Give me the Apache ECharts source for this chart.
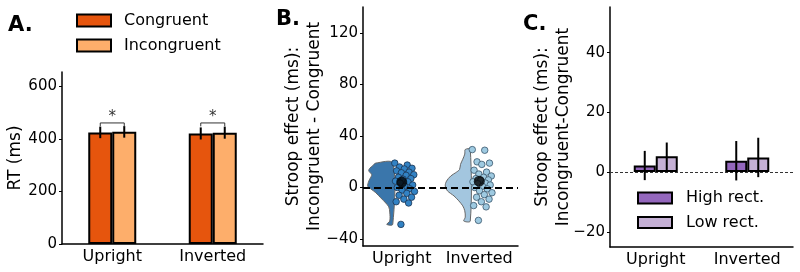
<!DOCTYPE html>
<html>
<head>
<meta charset="utf-8">
<script src="https://cdn.jsdelivr.net/npm/echarts@6/dist/echarts.min.js"></script>
<style>
  html, body { margin: 0; padding: 0; background: #fff; }
  #chart { width: 800px; height: 272px; }
</style>
</head>
<body>
<div id="chart"></div>
<script>
const conditions = ['Upright', 'Inverted']

// A. mean RT per condition (ms)
const rtTicks = [0, 200, 400, 600]
const rtCongruent = [425, 421]
const rtIncongruent = [427, 424]
const rtCongruentErr = [22, 23]
const rtIncongruentErr = [22, 23]
const rtBracketTop = [461, 461]
const rtBracketLeg = [448, 448]
const rtStar = [482, 482]

// B. stroop effect per participant (ms)
const stroopTicks = [-40, 0, 40, 80, 120]
const uprightPoints = [19, 17.5, 16, 15, 14.5, 13, 12, 11.5, 10, 9.5, 8, 7, 6.5, 5, 4.5, 3.5, 2, 1, 0, -1, -2, -3, -4.5, -6, -7.5, -9, -11, -12, -28.6]
const invertedPoints = [29.5, 29, 20, 19, 18, 13.5, 12, 10.5, 9, 8, 7, 6, 5.5, 4.5, 3.5, 3, 2, 1, 0, -1, -2.5, -4, -5.5, -7.5, -9, -11, -14, -15, -25.5]
const stroopMeans = [4.3, 5.0]
// half-violin outlines: value and relative density
const uprightViolinY = [19, 17, 15, 13, 10, 8, 5, 1, -1, -4, -8, -12, -15, -19, -26, -28.6]
const uprightViolinD = [0.68, 0.8, 0.92, 0.96, 0.84, 0.88, 0.96, 1.0, 0.88, 0.68, 0.48, 0.28, 0.16, 0.12, 0.12, 0.24]
const invertedViolinY = [29.6, 26, 22, 18, 14, 11.6, 9, 5, 1.3, -2.6, -6.5, -10.3, -14.2, -18, -23, -26]
const invertedViolinD = [0.2, 0.22, 0.3, 0.39, 0.43, 0.58, 0.78, 0.95, 1.0, 0.91, 0.65, 0.46, 0.3, 0.22, 0.2, 0.26]

// C. stroop effect by rectification (ms)
const recTicks = [-20, 0, 20, 40]
const highRect = [2.2, 3.8]
const lowRect = [5.3, 4.9]
const highRectErr = [4.9, 6.6]
const lowRectErr = [4.6, 6.6]

const FONT = 'DejaVu Sans'
const minus = v => String(v).replace('-', '\u2212')

var myChart = echarts.init(document.getElementById('chart'))

function yAxisBase (grid, min, max, ticks, name, gap) {
  return {
    type: 'value', gridIndex: grid, min: min, max: max,
    name: name, nameLocation: 'middle', nameRotate: 90, nameGap: gap, nameMoveOverlap: false,
    nameTextStyle: { fontFamily: FONT, fontSize: 17, color: '#000', lineHeight: 21 },
    axisLine: { show: true, onZero: false, lineStyle: { color: '#000', width: 1.5 } },
    axisTick: { show: true, length: 3, customValues: ticks, lineStyle: { color: '#000' } },
    axisLabel: { customValues: ticks, fontFamily: FONT, fontSize: 15, color: '#000', margin: 5, formatter: minus },
    splitLine: { show: false }
  }
}

function xAxisBase (grid) {
  return {
    type: 'category', gridIndex: grid, data: conditions,
    axisLine: { onZero: false, lineStyle: { color: '#000', width: 1.5 } },
    axisTick: { alignWithLabel: true, length: 3, lineStyle: { color: '#000' } },
    axisLabel: { interval: 0, fontFamily: FONT, fontSize: 16, color: '#000', margin: 5 }
  }
}

function errorBars (offset) {
  return function (params, api) {
    const i = api.value(0), m = api.value(1), e = api.value(2)
    const top = api.coord([i, m + e])
    const bot = api.coord([i, m - e])
    const x = top[0] + offset
    return {
      type: 'line',
      shape: { x1: x, y1: top[1], x2: x, y2: bot[1] },
      style: { stroke: '#000', lineWidth: 2 }
    }
  }
}

function violin (cat, ys, ds, color) {
  return function (params, api) {
    if (params.dataIndex !== 0) return null
    const pts = []
    const c0 = api.coord([cat, ys[0]])
    const edge = c0[0] - 9
    pts.push([edge, c0[1]])
    ys.forEach((y, k) => {
      const c = api.coord([cat, y])
      pts.push([edge - ds[k] * 25, c[1]])
    })
    pts.push([edge, api.coord([cat, ys[ys.length - 1]])[1]])
    return {
      type: 'polygon',
      shape: { points: pts, smooth: 0.3 },
      style: { fill: color, stroke: '#666', lineWidth: 1 }
    }
  }
}

// spread of the strip plot points around each category
const jitter = i => -0.09 + ((i * 0.6180339) % 1) * 0.26

const BW_A = 24, BW_C = 22

const option = {
  animation: false,
  textStyle: { fontFamily: FONT },
  grid: [
    { left: 62, top: 72, width: 201, height: 172 },
    { left: 363, top: 7, width: 155, height: 239 },
    { left: 610, top: 7, width: 183, height: 240 }
  ],
  legend: [
    {
      data: ['Congruent', 'Incongruent'], orient: 'vertical', left: 76, top: 12.5, padding: 0,
      itemWidth: 34, itemHeight: 12, itemGap: 9, icon: 'rect',
      itemStyle: { borderColor: '#000', borderWidth: 2 },
      textStyle: { fontFamily: FONT, fontSize: 16, color: '#000', lineHeight: 16, padding: [0, 0, 0, 8] }
    },
    {
      data: ['High rect.', 'Low rect.'], orient: 'vertical', left: 637, top: 190, padding: 0,
      itemWidth: 34, itemHeight: 11, itemGap: 8.5, icon: 'rect',
      itemStyle: { borderColor: '#000', borderWidth: 2 },
      textStyle: { fontFamily: FONT, fontSize: 16, color: '#000', lineHeight: 16, padding: [0, 0, 0, 9] }
    }
  ],
  xAxis: [
    xAxisBase(0),
    xAxisBase(1),
    xAxisBase(2),
    { type: 'value', gridIndex: 1, min: -0.5, max: 1.5, show: false }
  ],
  yAxis: [
    yAxisBase(0, 0, 655, rtTicks, 'RT (ms)', 36),
    yAxisBase(1, -45.4, 140.3, stroopTicks, 'Stroop effect (ms):\nIncongruent - Congruent', 37.5),
    yAxisBase(2, -25.1, 55.3, recTicks, 'Stroop effect (ms):\nIncongruent-Congruent', 35.5)
  ],
  graphic: [
    { type: 'text', x: 8, y: 25.5, style: { text: 'A.', fontFamily: FONT, fontSize: 21, fontWeight: 'bold', fill: '#000', verticalAlign: 'middle' } },
    { type: 'text', x: 276, y: 19.5, style: { text: 'B.', fontFamily: FONT, fontSize: 21, fontWeight: 'bold', fill: '#000', verticalAlign: 'middle' } },
    { type: 'text', x: 523, y: 25, style: { text: 'C.', fontFamily: FONT, fontSize: 21, fontWeight: 'bold', fill: '#000', verticalAlign: 'middle' } }
  ],
  series: [
    // A
    {
      name: 'Congruent', type: 'bar', xAxisIndex: 0, yAxisIndex: 0, data: rtCongruent,
      barWidth: BW_A, barGap: '0%',
      itemStyle: { color: '#e6550d', borderColor: '#000', borderWidth: 2 }
    },
    {
      name: 'Incongruent', type: 'bar', xAxisIndex: 0, yAxisIndex: 0, data: rtIncongruent,
      barWidth: BW_A, barGap: '0%',
      itemStyle: { color: '#fdae6b', borderColor: '#000', borderWidth: 2 }
    },
    {
      type: 'custom', xAxisIndex: 0, yAxisIndex: 0, z: 5, silent: true,
      data: conditions.map((c, i) => [i, rtCongruent[i], rtCongruentErr[i]]),
      renderItem: errorBars(-BW_A / 2)
    },
    {
      type: 'custom', xAxisIndex: 0, yAxisIndex: 0, z: 5, silent: true,
      data: conditions.map((c, i) => [i, rtIncongruent[i], rtIncongruentErr[i]]),
      renderItem: errorBars(BW_A / 2)
    },
    {
      type: 'custom', xAxisIndex: 0, yAxisIndex: 0, z: 5, silent: true,
      data: conditions.map((c, i) => [i, rtBracketTop[i], rtBracketLeg[i], rtStar[i]]),
      renderItem: function (params, api) {
        const i = api.value(0)
        const top = api.coord([i, api.value(1)])
        const leg = api.coord([i, api.value(2)])
        const star = api.coord([i, api.value(3)])
        const h = BW_A / 2
        return {
          type: 'group',
          children: [
            {
              type: 'polyline',
              shape: { points: [[top[0] - h, leg[1]], [top[0] - h, top[1]], [top[0] + h, top[1]], [top[0] + h, leg[1]]] },
              style: { stroke: '#333', lineWidth: 1, fill: null }
            },
            {
              type: 'text', x: star[0], y: star[1],
              style: { text: '*', fontFamily: FONT, fontSize: 15, fill: '#333', align: 'center', verticalAlign: 'middle' }
            }
          ]
        }
      }
    },
    // B
    {
      type: 'custom', xAxisIndex: 1, yAxisIndex: 1, z: 2, silent: true,
      data: uprightViolinY.map((y, k) => [0, y, uprightViolinD[k]]),
      renderItem: violin(0, uprightViolinY, uprightViolinD, '#3a76ab')
    },
    {
      type: 'custom', xAxisIndex: 1, yAxisIndex: 1, z: 2, silent: true,
      data: invertedViolinY.map((y, k) => [1, y, invertedViolinD[k]]),
      renderItem: violin(1, invertedViolinY, invertedViolinD, '#a3c6df')
    },
    {
      type: 'line', xAxisIndex: 1, yAxisIndex: 1, z: 3, data: [], silent: true,
      markLine: {
        silent: true, symbol: 'none', label: { show: false },
        lineStyle: { color: '#000', width: 2, type: [7, 4] },
        data: [{ yAxis: 0 }]
      }
    },
    {
      type: 'scatter', xAxisIndex: 3, yAxisIndex: 1, z: 4, symbolSize: 6.5,
      data: uprightPoints.map((v, i) => [0 + jitter(i), v]),
      itemStyle: { color: '#3282c4', borderColor: '#1c3450', borderWidth: 0.8, opacity: 1 }
    },
    {
      type: 'scatter', xAxisIndex: 3, yAxisIndex: 1, z: 4, symbolSize: 6.5,
      data: invertedPoints.map((v, i) => [1 + jitter(i), v]),
      itemStyle: { color: '#9ecae1', borderColor: '#3a556b', borderWidth: 0.8, opacity: 1 }
    },
    {
      type: 'scatter', xAxisIndex: 3, yAxisIndex: 1, z: 5, symbolSize: 11,
      data: stroopMeans.map((v, i) => [i, v]),
      itemStyle: { color: '#000' }
    },
    // C
    {
      type: 'line', xAxisIndex: 2, yAxisIndex: 2, z: 1, data: [], silent: true,
      markLine: {
        silent: true, symbol: 'none', label: { show: false },
        lineStyle: { color: '#333', width: 1, type: [3, 2] },
        data: [{ yAxis: 0 }]
      }
    },
    {
      name: 'High rect.', type: 'bar', xAxisIndex: 2, yAxisIndex: 2, data: highRect,
      barWidth: BW_C, barGap: '0%',
      itemStyle: { color: '#9467bd', borderColor: '#000', borderWidth: 2 }
    },
    {
      name: 'Low rect.', type: 'bar', xAxisIndex: 2, yAxisIndex: 2, data: lowRect,
      barWidth: BW_C, barGap: '0%',
      itemStyle: { color: '#c5b0d5', borderColor: '#000', borderWidth: 2 }
    },
    {
      type: 'custom', xAxisIndex: 2, yAxisIndex: 2, z: 5, silent: true,
      data: conditions.map((c, i) => [i, highRect[i], highRectErr[i]]),
      renderItem: errorBars(-BW_C / 2)
    },
    {
      type: 'custom', xAxisIndex: 2, yAxisIndex: 2, z: 5, silent: true,
      data: conditions.map((c, i) => [i, lowRect[i], lowRectErr[i]]),
      renderItem: errorBars(BW_C / 2)
    }
  ]
}

myChart.setOption(option)
</script>
</body>
</html>
